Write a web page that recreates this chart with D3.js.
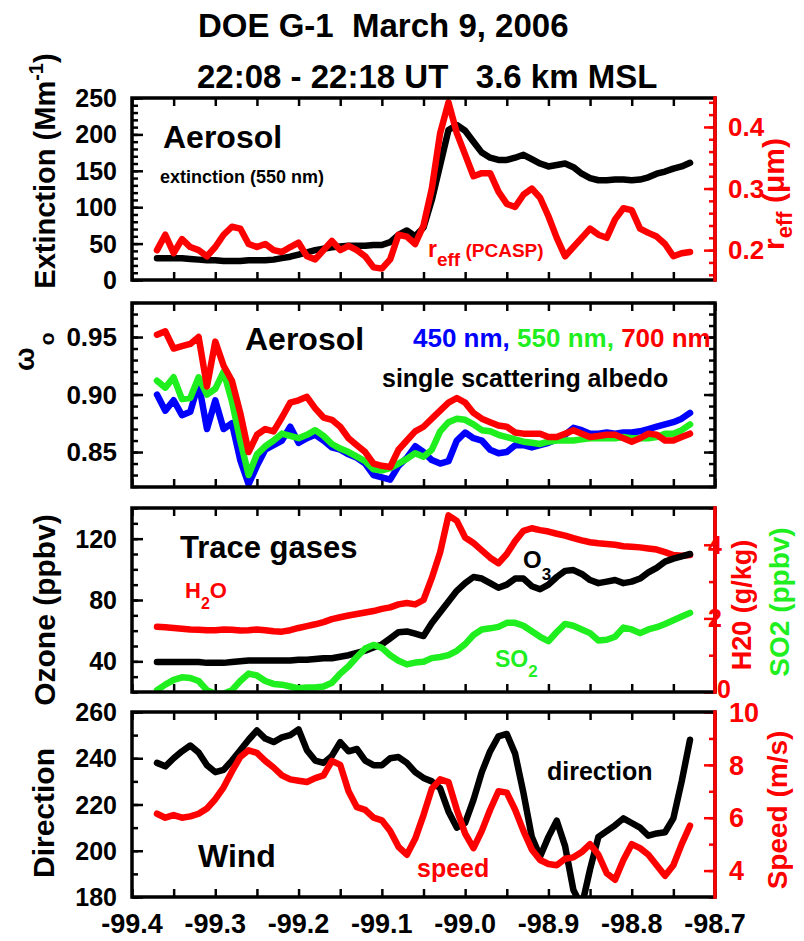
<!DOCTYPE html>
<html>
<head>
<meta charset="utf-8">
<script src="https://cdn.jsdelivr.net/npm/d3@7"></script>
<style>
  body { margin: 0; background: #fff; }
  svg text { font-family: "Liberation Sans", Arial, sans-serif; font-weight: bold; }
</style>
</head>
<body>
<svg id="chart" width="804" height="941"></svg>
<script>
// longitude of each sample (flight track, deg)
const lon = [-99.37, -99.36, -99.35, -99.34, -99.33, -99.32, -99.31, -99.30, -99.29, -99.28,
  -99.27, -99.26, -99.25, -99.24, -99.23, -99.22, -99.21, -99.20, -99.19, -99.18,
  -99.17, -99.16, -99.15, -99.14, -99.13, -99.12, -99.11, -99.10, -99.09, -99.08,
  -99.07, -99.06, -99.05, -99.04, -99.03, -99.02, -99.01, -99.00, -98.99, -98.98,
  -98.97, -98.96, -98.95, -98.94, -98.93, -98.92, -98.91, -98.90, -98.89, -98.88,
  -98.87, -98.86, -98.85, -98.84, -98.83, -98.82, -98.81, -98.80, -98.79, -98.78,
  -98.77, -98.76, -98.75, -98.74, -98.73];

// panel 1: extinction (Mm-1) and r_eff (um)
const extinction = [30, 30, 30, 30, 29, 28, 27, 27, 26, 26,
  26, 27, 27, 27, 28, 30, 32, 35, 38, 41,
  43, 45, 46, 47, 47, 47, 48, 48, 52, 62,
  68, 60, 72, 110, 158, 206, 213, 205, 190, 175,
  168, 165, 165, 168, 172, 166, 160, 156, 158, 160,
  155, 146, 140, 137, 137, 138, 138, 137, 138, 141,
  146, 149, 153, 156, 161];
const reff = [0.200, 0.225, 0.195, 0.218, 0.205, 0.200, 0.190, 0.205, 0.225, 0.238,
  0.235, 0.210, 0.205, 0.210, 0.200, 0.197, 0.205, 0.212, 0.190, 0.185,
  0.200, 0.215, 0.200, 0.207, 0.200, 0.190, 0.172, 0.170, 0.185, 0.225,
  0.222, 0.210, 0.240, 0.300, 0.390, 0.440, 0.390, 0.355, 0.320, 0.325,
  0.325, 0.295, 0.275, 0.270, 0.290, 0.300, 0.285, 0.255, 0.220, 0.190,
  0.205, 0.220, 0.235, 0.225, 0.220, 0.250, 0.268, 0.265, 0.235, 0.228,
  0.222, 0.210, 0.190, 0.195, 0.197];

// panel 2: single scattering albedo
const ssa450 = [0.900, 0.886, 0.895, 0.882, 0.885, 0.910, 0.870, 0.895, 0.870, 0.875,
  0.843, 0.822, 0.838, 0.852, 0.856, 0.860, 0.872, 0.858, 0.862, 0.865,
  0.860, 0.854, 0.852, 0.848, 0.845, 0.840, 0.830, 0.828, 0.826, 0.838,
  0.845, 0.855, 0.850, 0.843, 0.840, 0.842, 0.860, 0.867, 0.862, 0.860,
  0.852, 0.849, 0.850, 0.856, 0.856, 0.854, 0.856, 0.858, 0.861, 0.865,
  0.871, 0.869, 0.866, 0.866, 0.867, 0.866, 0.867, 0.867, 0.868, 0.870,
  0.872, 0.874, 0.876, 0.879, 0.884];
const ssa550 = [0.912, 0.906, 0.915, 0.896, 0.897, 0.915, 0.900, 0.905, 0.920, 0.894,
  0.860, 0.830, 0.848, 0.855, 0.860, 0.866, 0.864, 0.862, 0.865, 0.869,
  0.864, 0.857, 0.853, 0.850, 0.846, 0.842, 0.835, 0.834, 0.836, 0.840,
  0.844, 0.849, 0.846, 0.852, 0.868, 0.876, 0.879, 0.878, 0.874, 0.869,
  0.868, 0.865, 0.863, 0.861, 0.859, 0.858, 0.857, 0.859, 0.860, 0.860,
  0.860, 0.861, 0.862, 0.862, 0.862, 0.862, 0.863, 0.862, 0.862, 0.862,
  0.863, 0.866, 0.866, 0.869, 0.874];
const ssa700 = [0.952, 0.955, 0.940, 0.942, 0.944, 0.950, 0.907, 0.946, 0.925, 0.912,
  0.884, 0.850, 0.865, 0.870, 0.868, 0.880, 0.893, 0.895, 0.898, 0.888,
  0.880, 0.878, 0.872, 0.862, 0.856, 0.850, 0.840, 0.838, 0.837, 0.852,
  0.860, 0.868, 0.872, 0.879, 0.886, 0.893, 0.897, 0.893, 0.884, 0.879,
  0.876, 0.873, 0.872, 0.867, 0.866, 0.866, 0.866, 0.863, 0.863, 0.866,
  0.869, 0.866, 0.863, 0.864, 0.865, 0.865, 0.862, 0.859, 0.862, 0.866,
  0.865, 0.860, 0.860, 0.863, 0.866];

// panel 3: trace gases
const ozone = [39.5, 39.5, 39.5, 39.5, 39.5, 39.5, 39, 39, 39, 39.5,
  40, 40.5, 40.5, 40.5, 40.5, 40.5, 40.5, 41, 41, 41.5,
  42, 42, 43, 44, 45.5, 47, 49, 51, 55, 59,
  59.5, 58, 56.5, 65, 72, 79, 86, 91, 95, 94,
  91, 88, 90, 94, 94, 89, 87, 90, 95, 99,
  99.5, 97, 93, 91, 92, 93, 91, 92, 94, 98,
  101, 105, 107, 108.5, 110];
const h2o = [1.77, 1.76, 1.74, 1.72, 1.70, 1.69, 1.68, 1.68, 1.70, 1.69,
  1.67, 1.68, 1.70, 1.68, 1.65, 1.64, 1.68, 1.74, 1.79, 1.84,
  1.90, 1.98, 2.03, 2.08, 2.12, 2.16, 2.20, 2.26, 2.30, 2.38,
  2.42, 2.38, 2.50, 3.10, 3.80, 4.80, 4.65, 4.20, 4.05, 3.85,
  3.65, 3.50, 3.75, 4.10, 4.38, 4.45, 4.40, 4.36, 4.30, 4.25,
  4.18, 4.12, 4.07, 4.04, 4.02, 4.00, 3.96, 3.95, 3.93, 3.90,
  3.87, 3.80, 3.72, 3.70, 3.72];
const so2 = [0.05, 0.20, 0.33, 0.40, 0.38, 0.30, 0.05, -0.05, -0.05, 0.05,
  0.30, 0.50, 0.45, 0.30, 0.22, 0.20, 0.15, 0.10, 0.12, 0.12,
  0.15, 0.25, 0.50, 0.70, 0.95, 1.18, 1.28, 1.20, 1.00, 0.85,
  0.75, 0.80, 0.82, 0.92, 0.95, 1.00, 1.12, 1.30, 1.55, 1.70,
  1.73, 1.77, 1.88, 1.88, 1.80, 1.65, 1.50, 1.38, 1.63, 1.85,
  1.80, 1.70, 1.60, 1.40, 1.42, 1.50, 1.75, 1.70, 1.60, 1.70,
  1.76, 1.85, 1.95, 2.05, 2.15];

// panel 4: wind
const windDir = [238, 236.5, 240, 243, 245.5, 242.5, 237, 234, 235, 239,
  243.5, 248, 252, 248.5, 247, 249, 250, 252.5, 243.5, 239,
  238, 241, 247, 243, 244, 239, 237, 237, 240, 240.5,
  238, 234, 231.5, 230, 227, 217, 210, 212, 222, 234,
  243, 249.5, 250.5, 242, 225, 206, 197.5, 206, 213, 202,
  183, 176, 192, 206, 208.5, 211, 214, 212, 210, 206.5,
  207.5, 208, 214, 230, 248];
const windSpeed = [6.15, 6.0, 6.1, 6.0, 6.05, 6.15, 6.35, 6.7, 7.15, 7.75,
  8.3, 8.55, 8.45, 8.15, 7.9, 7.6, 7.45, 7.4, 7.35, 7.5,
  7.6, 8.15, 8.0, 7.0, 6.4, 6.3, 6.0, 5.9, 5.5, 4.9,
  4.6, 5.2, 6.1, 7.1, 7.45, 7.35, 6.3, 5.4, 4.85, 5.5,
  6.3, 7.0, 6.95, 6.3, 5.5, 4.8, 4.4, 4.25, 4.2, 4.45,
  4.5, 4.7, 5.0, 4.6, 3.9, 3.65, 4.4, 5.0, 4.85, 4.6,
  4.2, 3.8, 4.2, 5.0, 5.7];

// tick labels
const lonTicks = [-99.4, -99.3, -99.2, -99.1, -99.0, -98.9, -98.8, -98.7];
const extTicks = [0, 50, 100, 150, 200, 250];
const reffTicks = [0.2, 0.3, 0.4];
const ssaTicks = [0.85, 0.90, 0.95];
const ozoneTicks = [40, 80, 120];
const h2oTicks = [0, 2, 4];
const dirTicks = [180, 200, 220, 240, 260];
const speedTicks = [4, 6, 8, 10];

const RED = "#ff0000", GREEN = "#1fee1f", BLUE = "#0000ff", BLACK = "#000";
const svg = d3.select("#chart");
const L = 132, R = 715;

const x = d3.scaleLinear().domain([-99.4, -98.7]).range([L, R]);

function ticks(axisFn, scale, values, len, tx, ty, color) {
  svg.append("g").attr("transform", `translate(${tx},${ty})`)
    .call(axisFn(scale).tickValues(values).tickSize(-len).tickFormat(""))
    .call(g => g.select(".domain").remove())
    .call(g => g.selectAll("line").attr("stroke", color).attr("stroke-width", 2.5));
}

function panel(id, top, bottom) {
  svg.append("clipPath").attr("id", id).append("rect")
    .attr("x", L).attr("y", top).attr("width", R - L).attr("height", bottom - top);
  // x ticks, inward on top and bottom
  const xt = d3.range(-99.4, -98.69, 0.05);
  ticks(d3.axisBottom, x, xt, 8, 0, bottom, BLACK);
  ticks(d3.axisTop, x, xt, 8, 0, top, BLACK);
}

function frame(top, bottom, rightColor) {
  svg.append("rect").attr("x", L).attr("y", top).attr("width", R - L).attr("height", bottom - top)
    .attr("fill", "none").attr("stroke", BLACK).attr("stroke-width", 3.5);
  if (rightColor !== BLACK) {
    svg.append("line").attr("x1", R).attr("x2", R).attr("y1", top - 1.75).attr("y2", bottom + 1.75)
      .attr("stroke", rightColor).attr("stroke-width", 3.5);
  }
}

function series(id, data, y, color, width) {
  const line = d3.line().x((d, i) => x(lon[i])).y(d => y(d));
  svg.append("path").datum(data).attr("d", line)
    .attr("clip-path", `url(#${id})`)
    .attr("fill", "none").attr("stroke", color).attr("stroke-width", width || 6.5)
    .attr("stroke-linejoin", "round").attr("stroke-linecap", "round");
}

function leftLabels(y, values, fmt, size) {
  svg.append("g").selectAll("text").data(values).join("text")
    .attr("x", L - 15).attr("y", d => y(d)).attr("dy", "0.36em")
    .attr("text-anchor", "end").attr("font-size", size || 25).text(fmt);
}
function rightLabels(y, values, fmt, color, dx, size) {
  svg.append("g").selectAll("text").data(values).join("text")
    .attr("x", R + dx).attr("y", d => y(d)).attr("dy", "0.36em")
    .attr("fill", color).attr("font-size", size || 25).text(fmt);
}
function text(xp, yp, size, color, str) {
  return svg.append("text").attr("x", xp).attr("y", yp).attr("font-size", size).attr("fill", color).text(str);
}
function vtext(xp, yp, size, color) {
  return svg.append("text").attr("transform", `translate(${xp},${yp}) rotate(-90)`)
    .attr("text-anchor", "middle").attr("font-size", size).attr("fill", color);
}

// ---- title
text(198, 37, 33, BLACK, "DOE G-1  March 9, 2006").style("white-space", "pre");
text(197, 88, 33, BLACK, "22:08 - 22:18 UT   3.6 km MSL").style("white-space", "pre");

// ---- panel 1
{
  const top = 98, bottom = 280;
  const y = d3.scaleLinear().domain([0, 250]).range([bottom, top]);
  const y2 = d3.scaleLinear().domain([0.1515, 0.447]).range([bottom, top]);
  panel("c1", top, bottom);
  ticks(d3.axisLeft, y, d3.range(0, 251, 10), 6, L, 0, BLACK);
  ticks(d3.axisLeft, y, extTicks, 11, L, 0, BLACK);
  ticks(d3.axisRight, y2, d3.range(0.16, 0.447, 0.02), 6, R, 0, RED);
  ticks(d3.axisRight, y2, reffTicks, 11, R, 0, RED);
  series("c1", extinction, y, BLACK);
  series("c1", reff, y2, RED);
  frame(top, bottom, RED);
  leftLabels(y, extTicks, d => d);
  rightLabels(y2, reffTicks, d => d.toFixed(1), RED, 13, 26);
  text(163, 148, 32, BLACK, "Aerosol");
  text(160, 183, 18, BLACK, "extinction (550 nm)");
  const t = text(428, 257, 23, RED, "r");
  t.append("tspan").attr("font-size", 19).attr("dy", 9).text("eff");
  t.append("tspan").attr("font-size", 19).attr("dy", -9).text(" (PCASP)").style("white-space", "pre");
  const yl = vtext(55, 171, 29, BLACK).text("Extinction (Mm");
  yl.append("tspan").attr("font-size", 20).attr("dy", -12).text("-1");
  yl.append("tspan").attr("dy", 12).text(")");
  const yr = vtext(784, 194, 30, RED).text("r");
  yr.append("tspan").attr("font-size", 22).attr("dy", 8).text("eff");
  yr.append("tspan").attr("dy", -8).text(" (\u03bcm)").style("white-space", "pre");
}

// ---- panel 2
{
  const top = 303, bottom = 487;
  const y = d3.scaleLinear().domain([0.8196, 0.9796]).range([bottom, top]);
  panel("c2", top, bottom);
  const minor = d3.range(0.82, 0.98, 0.01);
  ticks(d3.axisLeft, y, minor, 6, L, 0, BLACK);
  ticks(d3.axisLeft, y, ssaTicks, 11, L, 0, BLACK);
  ticks(d3.axisRight, y, minor, 6, R, 0, BLACK);
  ticks(d3.axisRight, y, ssaTicks, 11, R, 0, BLACK);
  series("c2", ssa450, y, BLUE);
  series("c2", ssa550, y, GREEN);
  series("c2", ssa700, y, RED);
  frame(top, bottom, BLACK);
  leftLabels(y, ssaTicks, d => d.toFixed(2), 26);
  text(245, 350, 32, BLACK, "Aerosol");
  const t = text(413, 347, 26, BLUE, "450 nm, ").style("white-space", "pre");
  t.append("tspan").attr("fill", GREEN).text("550 nm, ");
  t.append("tspan").attr("fill", RED).text("700 nm");
  text(382, 387, 25, BLACK, "single scattering albedo");
  const yl = svg.append("text").attr("transform", "translate(34,371) rotate(-90)")
    .attr("font-size", 28).text("\u03c9");
  yl.append("tspan").attr("font-size", 21).attr("dy", 20).attr("dx", 2).text("o");
}

// ---- panel 3
{
  const top = 508, bottom = 692;
  const y = d3.scaleLinear().domain([20, 140]).range([bottom, top]);
  const y2 = d3.scaleLinear().domain([0, 5]).range([bottom, top]);
  panel("c3", top, bottom);
  ticks(d3.axisLeft, y, d3.range(20, 141, 10), 6, L, 0, BLACK);
  ticks(d3.axisLeft, y, ozoneTicks, 11, L, 0, BLACK);
  ticks(d3.axisRight, y2, [1, 3, 5], 6, R, 0, RED);
  ticks(d3.axisRight, y2, h2oTicks, 11, R, 0, RED);
  series("c3", h2o, y2, RED);
  series("c3", ozone, y, BLACK);
  series("c3", so2, y2, GREEN);
  frame(top, bottom, RED);
  leftLabels(y, ozoneTicks, d => d);
  rightLabels(y2, [4, 2], d => d, RED, -7, 25);
  text(717, 698, 25, RED, "0");
  text(180, 558, 31, BLACK, "Trace gases");
  const h = text(185, 598, 22, RED, "H");
  h.append("tspan").attr("font-size", 16).attr("dy", 11).text("2");
  h.append("tspan").attr("dy", -11).text("O");
  const o = text(523, 568, 24, BLACK, "O");
  o.append("tspan").attr("font-size", 17).attr("dy", 12).text("3");
  const s = text(495, 667, 23, GREEN, "SO");
  s.append("tspan").attr("font-size", 17).attr("dy", 10).text("2");
  vtext(55, 610, 30, BLACK).text("Ozone (ppbv)");
  vtext(751, 605, 27, RED).text("H20 (g/kg)");
  vtext(789, 602, 28, GREEN).text("SO2 (ppbv)");
}

// ---- panel 4
{
  const top = 712, bottom = 897;
  const y = d3.scaleLinear().domain([180, 260]).range([bottom, top]);
  const y2 = d3.scaleLinear().domain([3, 10]).range([bottom, top]);
  panel("c4", top, bottom);
  ticks(d3.axisLeft, y, d3.range(180, 261, 10), 6, L, 0, BLACK);
  ticks(d3.axisLeft, y, dirTicks, 11, L, 0, BLACK);
  ticks(d3.axisRight, y2, d3.range(3, 10.1, 1), 6, R, 0, RED);
  ticks(d3.axisRight, y2, speedTicks, 11, R, 0, RED);
  series("c4", windDir, y, BLACK);
  series("c4", windSpeed, y2, RED);
  frame(top, bottom, RED);
  leftLabels(y, dirTicks, d => d);
  rightLabels(y2, speedTicks, d => d, RED, 14, 27);
  text(198, 867, 32, BLACK, "Wind");
  text(547, 780, 25, BLACK, "direction");
  text(417, 877, 25, RED, "speed");
  vtext(54, 813, 30, BLACK).text("Direction");
  vtext(787, 810, 28, RED).text("Speed (m/s)");
  svg.append("g").selectAll("text").data(lonTicks).join("text")
    .attr("x", d => x(d)).attr("y", 933).attr("text-anchor", "middle")
    .attr("font-size", 27).text(d => d.toFixed(1));
}
</script>
</body>
</html>
